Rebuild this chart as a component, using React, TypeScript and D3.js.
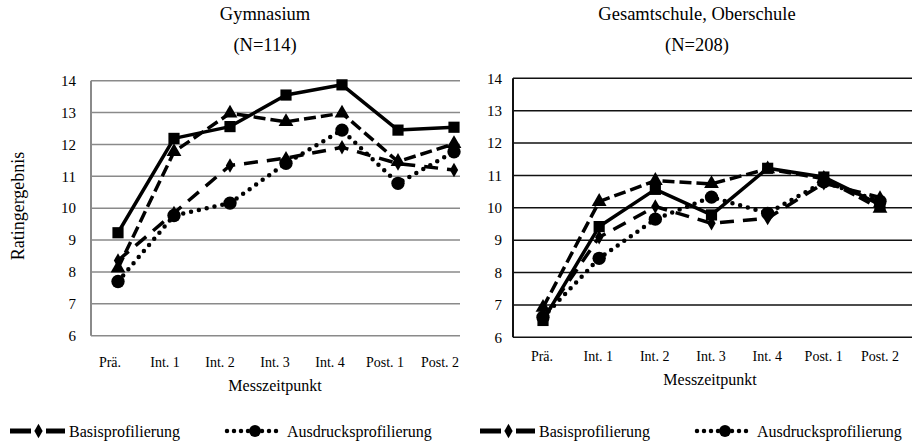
import * as d3 from "d3";

const categories = ["Prä.", "Int. 1", "Int. 2", "Int. 3", "Int. 4", "Post. 1", "Post. 2"];
const yTicks = [6, 7, 8, 9, 10, 11, 12, 13, 14];

// Gymnasium (N=114)
const gymSquares = [9.23, 12.19, 12.56, 13.55, 13.87, 12.45, 12.54];
const gymTriangles = [8.12, 11.77, 12.98, 12.71, 12.98, 11.46, 12.02];
const gymBasis = [8.36, 9.85, 11.34, 11.57, 11.91, 11.4, 11.2];
const gymAusdruck = [7.7, 9.77, 10.16, 11.41, 12.45, 10.78, 11.77];

// Gesamtschule, Oberschule (N=208)
const gesSquares = [6.52, 9.42, 10.57, 9.78, 11.22, 10.95, 10.1];
const gesTriangles = [6.92, 10.19, 10.84, 10.74, 11.2, 10.9, 9.98];
const gesBasis = [6.58, 9.09, 10.04, 9.52, 9.68, 10.76, 10.32];
const gesAusdruck = [6.62, 8.44, 9.65, 10.33, 9.83, 10.8, 10.2];

const legendLabels = ["Basisprofilierung", "Ausdrucksprofilierung"];

const FONT = "'Liberation Serif', 'Times New Roman', 'DejaVu Serif', serif";

type Style = {
  dash: string;
  width: number;
  cap: "butt" | "round";
  symbol: d3.SymbolType;
  size: number;
};

const styles: Style[] = [
  { dash: "none", width: 3.5, cap: "butt", symbol: d3.symbolSquare, size: 125 },
  { dash: "12,5", width: 3.5, cap: "butt", symbol: d3.symbolTriangle, size: 95 },
  { dash: "14,9", width: 3.5, cap: "butt", symbol: d3.symbolDiamond, size: 60 },
  { dash: "0,8", width: 4.5, cap: "round", symbol: d3.symbolCircle, size: 140 },
];

type Panel = {
  title: string;
  n: string;
  cx: number;
  left: number;
  right: number;
  top: number;
  bottom: number;
  pts: [number, number];
  labels: [number, number];
  grid: string;
  tickX: number;
  catY: number;
  axisTitleX: number;
  axisTitleY: number;
  series: number[][];
};

const panels: Panel[] = [
  {
    title: "Gymnasium",
    n: "(N=114)",
    cx: 265,
    left: 91,
    right: 460,
    top: 80.7,
    bottom: 335.7,
    pts: [118, 454],
    labels: [110, 440],
    grid: "#8a8a8a",
    tickX: 76,
    catY: 367,
    axisTitleX: 275,
    axisTitleY: 391,
    series: [gymSquares, gymTriangles, gymBasis, gymAusdruck],
  },
  {
    title: "Gesamtschule, Oberschule",
    n: "(N=208)",
    cx: 697,
    left: 513,
    right: 912,
    top: 78.3,
    bottom: 337.3,
    pts: [543, 880],
    labels: [542, 880],
    grid: "#111",
    tickX: 502,
    catY: 361,
    axisTitleX: 710,
    axisTitleY: 385,
    series: [gesSquares, gesTriangles, gesBasis, gesAusdruck],
  },
];

function ChartPanel({ p }: { p: Panel }) {
  const x = d3.scalePoint<string>().domain(categories).range(p.pts);
  const xl = d3.scalePoint<string>().domain(categories).range(p.labels);
  const y = d3.scaleLinear().domain([6, 14]).range([p.bottom, p.top]);
  const line = d3
    .line<number>()
    .x((_, i) => x(categories[i]) as number)
    .y((d) => y(d));

  return (
    <g>
      <text x={p.cx} y={20} textAnchor="middle" fontSize={18.5}>
        {p.title}
      </text>
      <text x={p.cx} y={51} textAnchor="middle" fontSize={18.5}>
        {p.n}
      </text>
      {yTicks.map((t) => (
        <g key={t}>
          <line x1={p.left} x2={p.right} y1={y(t)} y2={y(t)} stroke={p.grid} strokeWidth={1.5} />
          <text x={p.tickX} y={y(t)} dy="0.35em" textAnchor="end" fontSize={15}>
            {t}
          </text>
        </g>
      ))}
      <line x1={p.left} x2={p.left} y1={p.top} y2={p.bottom} stroke={p.grid} strokeWidth={2} />
      {categories.map((c) => (
        <text key={c} x={xl(c)} y={p.catY} textAnchor="middle" fontSize={14}>
          {c}
        </text>
      ))}
      <text x={p.axisTitleX} y={p.axisTitleY} textAnchor="middle" fontSize={16}>
        Messzeitpunkt
      </text>
      {p.series.map((s, si) => {
        const st = styles[si];
        const sym = d3.symbol().type(st.symbol).size(st.size);
        return (
          <g key={si}>
            <path
              d={line(s) as string}
              fill="none"
              stroke="#000"
              strokeWidth={st.width}
              strokeDasharray={st.dash}
              strokeLinecap={st.cap}
              strokeLinejoin="round"
            />
            {s.map((v, i) => (
              <path
                key={i}
                d={sym() as string}
                transform={`translate(${x(categories[i])},${y(v)})`}
                fill="#000"
              />
            ))}
          </g>
        );
      })}
    </g>
  );
}

function Legend({ x0 }: { x0: number }) {
  const ly = 431;
  const diamond = d3.symbol().type(d3.symbolDiamond).size(60)();
  const circle = d3.symbol().type(d3.symbolCircle).size(110)();
  return (
    <g>
      <line x1={x0 + 10} x2={x0 + 31} y1={ly} y2={ly} stroke="#000" strokeWidth={5} />
      <line x1={x0 + 46} x2={x0 + 65} y1={ly} y2={ly} stroke="#000" strokeWidth={5} />
      <path d={diamond as string} transform={`translate(${x0 + 38.5},${ly})`} fill="#000" />
      <text x={x0 + 69} y={ly} dy="0.35em" fontSize={16}>
        {legendLabels[0]}
      </text>
      <line
        x1={x0 + 227}
        x2={x0 + 282}
        y1={ly}
        y2={ly}
        stroke="#000"
        strokeWidth={4.5}
        strokeDasharray="0,7"
        strokeLinecap="round"
      />
      <path d={circle as string} transform={`translate(${x0 + 255},${ly})`} fill="#000" />
      <text x={x0 + 287} y={ly} dy="0.35em" fontSize={16}>
        {legendLabels[1]}
      </text>
    </g>
  );
}

export default function App() {
  return (
    <svg
      width={912}
      height={443}
      style={{ position: "absolute", left: 0, top: 0, background: "#fff", fontFamily: FONT }}
    >
      <rect width={912} height={443} fill="#fff" />
      <text transform="translate(24,206) rotate(-90)" textAnchor="middle" fontSize={18}>
        Ratingergebnis
      </text>
      {panels.map((p) => (
        <ChartPanel key={p.title} p={p} />
      ))}
      <Legend x0={0} />
      <Legend x0={470} />
    </svg>
  );
}
